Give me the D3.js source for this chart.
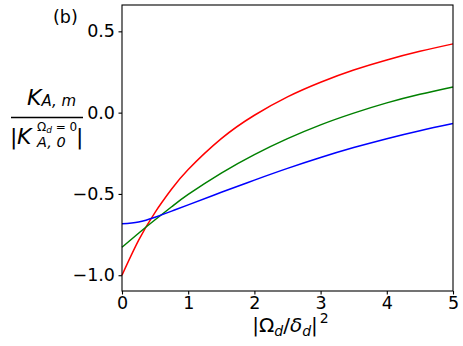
<!DOCTYPE html>
<html>
<head>
<meta charset="UTF-8">
<title>K_A,m vs |Omega_d/delta_d|^2</title>
<style>
    body { margin: 0; background: #fff; }
    text { font-family: "DejaVu Sans", sans-serif; fill: #000; }
    .axis path, .axis line { stroke: #000; stroke-width: 1.1px; }
</style>
</head>
<body>
<svg width="463" height="346"></svg>
<script src="https://cdn.jsdelivr.net/npm/d3@7"></script>
<script>

    // values
    var xs    = [0, 0.25, 0.5, 0.75, 1, 1.5, 2, 2.5, 3, 3.5, 4, 4.5, 5];
    var red   = [-1.0, -0.786, -0.613, -0.47, -0.35, -0.16, -0.016, 0.097, 0.187, 0.262, 0.324, 0.377, 0.423];
    var green = [-0.828, -0.742, -0.659, -0.579, -0.503, -0.372, -0.258, -0.16, -0.075, -0.003, 0.06, 0.113, 0.158];
    var blue  = [-0.683, -0.672, -0.643, -0.606, -0.567, -0.49, -0.415, -0.343, -0.276, -0.215, -0.16, -0.111, -0.067];
    var xTicks = [0, 1, 2, 3, 4, 5];
    var yTicks = [-1.0, -0.5, 0.0, 0.5];

    var series = [
        { name: "red",   color: "#ff0000", values: red },
        { name: "green", color: "#008000", values: green },
        { name: "blue",  color: "#0000ff", values: blue }
    ];

    var svg = d3.select("svg");
    var plotL = 122, plotR = 453, plotT = 5, plotB = 291;

    var x = d3.scaleLinear().domain([0, 5]).range([plotL, plotR]);
    var y = d3.scaleLinear().domain([-1.097, 0.662]).range([plotB, plotT]);

    var line = d3.line()
        .x(function(d) { return x(d[0]); })
        .y(function(d) { return y(d[1]); })
        .curve(d3.curveNatural);

    var plot = svg.append("g");

    series.forEach(function(s) {
        plot.append("path")
            .datum(xs.map(function(v, i) { return [v, s.values[i]]; }))
            .attr("fill", "none")
            .attr("stroke", s.color)
            .attr("stroke-width", 1.5)
            .attr("d", line);
    });

    // spines
    svg.append("rect")
        .attr("x", plotL).attr("y", plotT)
        .attr("width", plotR - plotL).attr("height", plotB - plotT)
        .attr("fill", "none").attr("stroke", "#000").attr("stroke-width", 1.1);

    svg.append("g")
        .attr("class", "axis")
        .attr("transform", "translate(0," + plotB + ")")
        .call(d3.axisBottom(x).tickValues(xTicks).tickFormat(d3.format("d"))
            .tickSize(3.5).tickSizeOuter(0).tickPadding(2.5))
        .call(function(g) {
            g.select(".domain").remove();
            g.attr("font-size", null).attr("font-family", null);
            g.selectAll("text").style("font-size", "17.5px");
        });

    svg.append("g")
        .attr("class", "axis")
        .attr("transform", "translate(" + plotL + ",0)")
        .call(d3.axisLeft(y).tickValues(yTicks).tickFormat(d3.format(".1f"))
            .tickSize(3.5).tickSizeOuter(0).tickPadding(3.5))
        .call(function(g) {
            g.select(".domain").remove();
            g.attr("font-size", null).attr("font-family", null);
            g.selectAll("text").style("font-size", "17.5px");
        });

    // x label |Ω_d/δ_d|^2
    var xl = svg.append("text")
        .attr("x", (plotL + plotR) / 2 + 3)
        .attr("y", 332)
        .attr("text-anchor", "middle")
        .style("font-size", "20px");
    xl.append("tspan").text("|Ω");
    xl.append("tspan").attr("dy", 4).style("font-size", "14px").style("font-style", "italic").text("d");
    xl.append("tspan").attr("dy", -4).text("/");
    xl.append("tspan").style("font-style", "italic").text("δ");
    xl.append("tspan").attr("dy", 4).style("font-size", "14px").style("font-style", "italic").text("d");
    xl.append("tspan").attr("dy", -4).text("|");
    xl.append("tspan").attr("dx", 2).attr("dy", -9).style("font-size", "14px").text("2");

    // y label as a fraction
    var num = svg.append("text").attr("x", 27).attr("y", 105).style("font-size", "22px");
    num.append("tspan").style("font-style", "italic").text("K");
    num.append("tspan").attr("dy", 1).style("font-size", "15px").style("font-style", "italic").text("A, m");

    svg.append("line")
        .attr("x1", 11).attr("x2", 83)
        .attr("y1", 117.5).attr("y2", 117.5)
        .attr("stroke", "#000").attr("stroke-width", 1.5);

    svg.append("text").attr("x", 10).attr("y", 144).style("font-size", "22px").text("|");
    svg.append("text").attr("x", 17).attr("y", 144).style("font-size", "22px").style("font-style", "italic").text("K");
    var sup = svg.append("text").attr("x", 37).attr("y", 130.5).style("font-size", "12px");
    sup.append("tspan").text("Ω");
    sup.append("tspan").attr("dy", 2.5).style("font-size", "9px").style("font-style", "italic").text("d");
    sup.append("tspan").attr("dy", -2.5).text(" = 0");
    svg.append("text").attr("x", 37).attr("y", 147).style("font-size", "14.5px").style("font-style", "italic").text("A, 0");
    svg.append("text").attr("x", 76).attr("y", 144).style("font-size", "22px").text("|");

    // panel label
    svg.append("text").attr("x", 53).attr("y", 23).style("font-size", "17.5px").text("(b)");

</script>
</body>
</html>
